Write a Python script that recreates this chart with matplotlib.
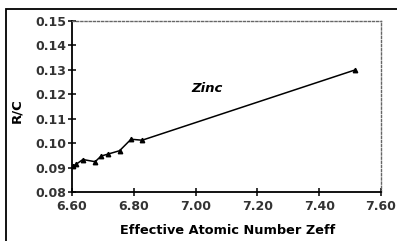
import matplotlib
matplotlib.use("Agg")
import matplotlib.pyplot as plt
from matplotlib.patches import Rectangle

# Data
zeff = [6.604, 6.613, 6.635, 6.675, 6.694, 6.716, 6.754, 6.791, 6.827, 7.517]
r_over_c = [0.0907, 0.0913, 0.0933, 0.0924, 0.0947, 0.0955, 0.0969, 0.1016, 0.1012, 0.1300]
x_ticks = [6.60, 6.80, 7.00, 7.20, 7.40, 7.60]
y_ticks = [0.08, 0.09, 0.10, 0.11, 0.12, 0.13, 0.14, 0.15]

plt.rcParams['font.family'] = ['DejaVu Sans']

W, H = 397, 241
fig = plt.figure(figsize=(W / 100, H / 100), dpi=100)

# plot area in pixels: left 72, right 381, top 21, bottom 192
ax = fig.add_axes([72 / W, 1 - 192 / H, (381 - 72) / W, (192 - 21) / H])

ax.plot(zeff, r_over_c, color='black', lw=1.1, marker='^', ms=3.2,
        mfc='black', mec='black')

ax.set_xlim(6.60, 7.60)
ax.set_ylim(0.08, 0.15)
ax.set_xticks(x_ticks)
ax.set_xticklabels(["%.2f" % v for v in x_ticks])
ax.set_yticks(y_ticks)
ax.set_yticklabels(["%.2f" % v for v in y_ticks])
ax.tick_params(direction='inout', length=6, width=1.1, labelsize=9,
               pad=1, colors='black')
ax.tick_params(axis='x', pad=3)
for lab in ax.get_xticklabels() + ax.get_yticklabels():
    lab.set_fontweight('bold')
    lab.set_color('#333333')

for side in ['left', 'bottom']:
    ax.spines[side].set_linewidth(1.3)
for side in ['top', 'right']:
    ax.spines[side].set_linewidth(1.0)
    ax.spines[side].set_linestyle((0, (1.5, 1.5)))
    ax.spines[side].set_color('#666666')

ax.text(6.985, 0.1224, "Zinc", fontsize=9.5, fontweight='bold',
        fontstyle='italic', va='center', ha='left')

fig.text(228 / W, 1 - 230 / H, "Effective Atomic Number Zeff",
         fontsize=9.3, fontweight='bold', ha='center', va='center')
fig.text(17 / W, 1 - 111 / H, "R/C", fontsize=9.5, fontweight='bold',
         rotation=90, ha='center', va='center')

# outer frame around the chart
fig.patches.append(Rectangle((6 / W, -0.02), 1.1, 1 - 9 / H + 0.02,
                             transform=fig.transFigure, fill=False,
                             ec='black', lw=1.3))

fig.savefig("out.png", dpi=100)
